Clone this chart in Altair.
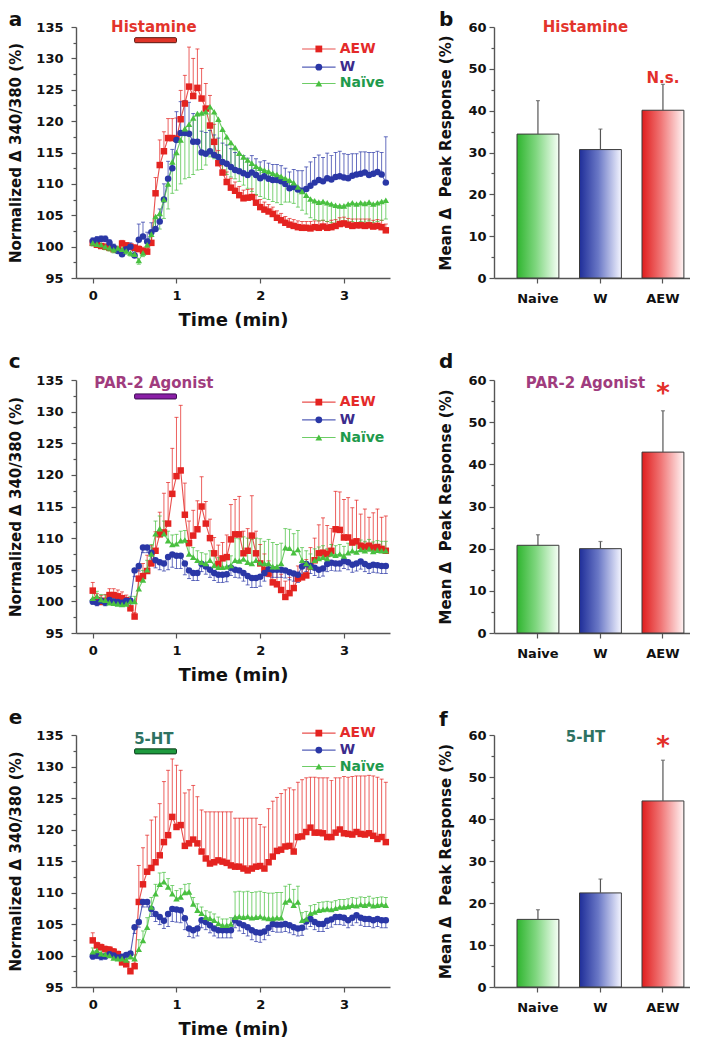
import altair as alt
import pandas as pd

FONT = "DejaVu Sans"
SERIES = ["AEW", "W", "Naïve"]
SERIES_COLORS = ["#e42320", "#2a37a6", "#49c040"]
LEGEND_TEXT_COLORS = ["#e42a2a", "#3b2b8c", "#1f9a4c"]
SHAPES = ["square", "circle", "triangle-up"]
GROUPS = ["Naive", "W", "AEW"]

# sample times (min), one sample every 3 s
TIME = [round(0.05 * i, 2) for i in range(71)]

# ---------------- panel a : Histamine ----------------
A_AEW = [100.6, 100.3, 100.1, 100.0, 99.8, 99.6, 99.5, 100.5, 100.2, 100.0,
         99.8, 99.6, 99.3, 99.2, 100.6, 108.5, 113.0, 115.2, 117.3, 117.3,
         117.2, 120.3, 122.8, 125.5, 124.0, 125.3, 123.6, 122.0, 119.3, 116.7,
         113.3, 111.8, 110.3, 109.4, 108.9, 108.2, 107.7, 107.8, 107.9, 107.0,
         106.3, 105.9, 105.6, 105.2, 104.6, 104.2, 103.8, 103.5, 103.3, 103.1,
         103.0, 103.0, 102.9, 103.1, 103.0, 103.2, 103.0, 103.1, 103.3, 103.6,
         103.7, 103.5, 103.3, 103.4, 103.4, 103.3, 103.4, 103.2, 103.3, 103.1,
         102.6]
A_AEW_ERR = [0.4, 0.3, 0.3, 0.3, 0.4, 0.4, 0.4, 0.5, 0.4, 0.4,
             0.5, 0.5, 0.6, 0.6, 1.0, 2.5, 4.0, 3.1, 3.1, 3.1,
             3.3, 4.6, 4.5, 6.3, 6.0, 6.2, 4.8, 4.0, 4.8, 2.8,
             2.0, 1.7, 1.6, 1.5, 1.4, 1.4, 1.3, 1.3, 1.3, 1.2,
             1.2, 1.2, 1.1, 1.1, 1.1, 1.1, 1.0, 1.0, 1.0, 1.0,
             1.0, 1.0, 1.1, 1.0, 1.1, 1.0, 1.0, 1.1, 1.0, 1.0,
             1.0, 1.0, 1.1, 1.0, 1.0, 1.1, 1.0, 1.0, 1.0, 1.1,
             1.0]
A_W = [100.9, 101.1, 101.2, 101.2, 100.6, 99.9, 99.3, 98.8, 99.6, 100.0,
       98.6, 101.1, 101.6, 100.8, 102.3, 102.8, 104.0, 107.5, 110.8, 112.5,
       117.0, 118.1, 118.1, 118.0, 116.7, 116.7, 115.0, 114.8, 115.2, 114.6,
       114.3, 113.5, 113.2, 112.7, 112.2, 112.0, 111.7, 111.4, 111.8, 111.4,
       110.9, 111.2, 110.8, 110.6, 110.6, 110.4, 110.0, 109.3, 109.5, 109.1,
       108.9, 109.2, 109.7, 110.2, 110.6, 110.4, 110.9, 110.7, 111.1, 111.2,
       111.0, 110.9, 111.3, 111.5, 111.6, 111.8, 111.4, 111.6, 111.9, 111.5,
       110.2]
A_W_ERR = [0.5, 0.5, 0.5, 0.5, 0.5, 0.5, 0.5, 0.5, 0.5, 0.6,
           0.8, 2.5, 2.3, 1.5, 1.5, 1.8, 2.0, 2.5, 2.8, 3.0,
           4.5, 5.0, 5.2, 5.0, 4.5, 4.3, 3.4, 3.4, 3.3, 3.2,
           3.0, 3.0, 3.0, 2.9, 2.8, 2.8, 2.8, 2.7, 2.7, 2.6,
           2.6, 2.5, 2.5, 2.5, 2.5, 2.5, 2.5, 2.6, 2.8, 3.0,
           3.2, 3.5, 3.8, 4.0, 4.0, 3.8, 4.0, 3.8, 3.9, 4.0,
           3.8, 3.8, 3.5, 3.3, 3.5, 3.3, 3.6, 3.4, 3.3, 3.5,
           7.3]
A_NAIVE = [100.6, 100.4, 100.3, 100.0, 99.8, 99.5, 99.8, 99.6, 99.3, 99.0,
           98.8, 97.8, 99.0, 100.3, 102.0, 104.8, 105.3, 107.5, 110.0, 113.5,
           115.0, 117.0, 118.8, 119.5, 120.5, 121.2, 121.3, 121.5, 122.3, 121.5,
           120.3, 118.7, 117.5, 116.6, 115.8, 114.9, 114.3, 113.8, 113.3, 112.8,
           112.5, 112.2, 112.0, 111.7, 111.5, 111.2, 110.9, 110.6, 110.2, 109.5,
           108.8, 108.2, 107.6, 107.3, 107.1, 107.2, 107.0, 106.8, 106.6, 106.5,
           106.5, 106.8, 107.0, 106.8, 107.0, 106.9, 107.1, 106.8, 107.0, 107.2,
           107.4]
A_NAIVE_ERR = [0.5, 0.5, 0.5, 0.5, 0.5, 0.5, 0.5, 0.5, 0.5, 0.5,
               0.5, 0.6, 0.6, 0.8, 1.5, 2.0, 2.5, 3.0, 4.0, 5.0,
               6.0, 7.0, 8.0, 8.5, 9.0, 9.0, 9.0, 8.5, 8.0, 7.5,
               7.0, 6.5, 6.0, 5.5, 5.0, 4.5, 4.5, 4.5, 4.5, 4.5,
               4.5, 4.5, 4.5, 4.5, 4.5, 4.5, 3.8, 3.5, 3.3, 3.2,
               3.0, 3.0, 3.0, 3.0, 3.0, 3.0, 3.0, 3.0, 3.0, 3.0,
               3.0, 3.0, 3.0, 3.0, 3.0, 3.0, 3.0, 3.0, 3.0, 3.0,
               3.0]

# ---------------- panel c : PAR-2 agonist ----------------
C_AEW = [101.7, 100.2, 99.9, 100.1, 101.0, 101.0, 100.8, 100.5, 100.2, 98.9,
         97.6, 103.6, 104.0, 104.8, 106.0, 108.0, 110.6, 110.9, 112.3, 117.0,
         119.8, 120.7, 113.7, 109.2, 110.4, 111.4, 115.0, 112.3, 110.0, 107.6,
         105.9, 106.8, 107.0, 109.8, 110.6, 110.6, 107.6, 108.0, 110.4, 107.6,
         106.0, 105.0, 104.4, 103.0, 102.7, 101.8, 100.7, 101.3, 102.1, 103.6,
         103.8, 104.1, 105.5, 106.5, 107.6, 107.7, 107.5, 108.0, 111.4, 111.3,
         110.1, 110.1, 109.3, 109.5, 108.8, 108.6, 108.8, 108.5, 108.6, 108.3,
         108.0]
C_AEW_ERR = [1.3, 1.0, 1.0, 1.0, 1.0, 1.0, 1.0, 1.0, 0.8, 0.8,
             0.6, 1.5, 2.0, 2.5, 2.8, 3.0, 3.5, 6.2, 6.5, 7.2,
             9.3, 10.3, 5.0, 3.5, 4.0, 4.5, 4.7, 3.5, 3.0, 2.5,
             3.0, 2.5, 3.5, 5.5, 5.5, 6.0, 3.5, 3.5, 6.3, 3.5,
             3.0, 2.5, 2.0, 2.0, 2.2, 2.5, 2.5, 2.5, 2.5, 2.0,
             2.5, 2.5, 3.0, 3.5, 4.5, 5.5, 4.5, 3.5, 6.0, 6.0,
             6.0, 6.3, 5.5, 6.5, 5.0, 6.0, 4.5, 5.5, 6.0, 5.0,
             5.5]
C_W = [100.0, 99.8, 100.1, 99.8, 100.2, 100.0, 99.9, 99.8, 100.1, 100.1,
       104.9, 105.6, 108.5, 108.5, 107.7, 106.5, 106.2, 106.0, 107.0, 107.4,
       107.2, 107.2, 106.0, 104.9, 104.5, 104.5, 105.9, 105.5, 105.0, 104.5,
       104.2, 104.2, 104.3, 105.3, 105.0, 104.9, 104.5, 104.0, 103.7, 103.7,
       103.9, 104.5, 105.1, 105.0, 105.0, 105.0, 104.9, 104.6, 104.4, 104.2,
       105.5, 105.9, 105.6, 105.3, 105.0, 105.2, 105.9, 106.1, 106.0, 106.0,
       106.4, 106.2, 105.8, 106.0, 106.3, 105.9, 105.6, 105.8, 105.7, 105.6,
       105.6]
C_W_ERR = [0.5, 0.5, 0.5, 0.5, 0.5, 0.5, 0.5, 0.5, 0.5, 0.5,
           1.0, 0.8, 0.8, 0.8, 1.2, 1.2, 1.2, 1.2, 2.0, 2.0,
           2.0, 2.0, 1.8, 1.3, 1.2, 1.2, 1.2, 1.2, 1.2, 1.2,
           1.2, 1.2, 1.2, 1.2, 1.2, 1.2, 1.3, 1.4, 1.5, 1.5,
           1.5, 1.3, 1.2, 1.2, 1.2, 1.2, 1.2, 1.2, 1.2, 1.2,
           1.2, 1.2, 1.2, 1.2, 1.2, 1.2, 1.2, 1.2, 1.2, 1.2,
           1.2, 1.2, 1.2, 1.2, 1.2, 1.2, 1.2, 1.2, 1.2, 1.2,
           1.2]
C_NAIVE = [100.5, 100.8, 100.3, 100.2, 99.8, 99.7, 99.6, 99.5, 99.6, 100.0,
           100.0, 102.0, 103.4, 105.0, 107.5, 110.7, 111.5, 110.7, 109.6, 109.0,
           109.1, 109.6, 109.7, 107.5, 107.0, 106.5, 106.2, 106.0, 106.5, 105.7,
           105.4, 105.4, 105.5, 105.7, 106.5, 106.4, 106.7, 106.2, 106.0, 106.5,
           106.1, 106.0, 106.0, 105.5, 105.5, 106.0, 108.5, 108.4, 107.7, 108.2,
           106.5, 106.0, 105.5, 106.5, 106.8, 107.0, 106.8, 107.5, 107.3, 107.5,
           107.2, 107.7, 108.0, 107.8, 108.2, 108.0, 108.3, 107.9, 108.1, 108.0,
           108.0]
C_NAIVE_ERR = [0.8, 0.8, 0.8, 0.8, 0.8, 0.8, 0.8, 0.8, 0.8, 0.8,
               0.8, 1.5, 1.5, 1.5, 1.5, 2.0, 2.0, 2.0, 1.5, 1.5,
               1.5, 1.5, 1.5, 1.5, 1.5, 1.5, 1.5, 1.5, 1.5, 1.5,
               1.5, 1.5, 1.5, 1.5, 3.5, 3.5, 3.5, 3.8, 3.8, 3.5,
               3.8, 3.5, 3.8, 3.8, 3.5, 3.2, 3.0, 3.0, 3.0, 3.0,
               2.0, 2.0, 2.0, 1.8, 1.8, 1.8, 1.5, 1.5, 1.5, 1.5,
               1.5, 1.5, 1.5, 1.5, 1.5, 1.5, 1.5, 1.5, 1.5, 1.5,
               1.5]

# ---------------- panel e : 5-HT ----------------
E_AEW = [102.4, 101.6, 101.3, 101.0, 100.9, 100.6, 100.2, 98.9, 98.6, 97.5,
         98.3, 108.5, 111.3, 113.3, 113.9, 114.8, 115.9, 118.0, 119.1, 122.0,
         120.4, 120.7, 117.4, 117.8, 118.4, 117.8, 116.5, 115.4, 114.6, 114.8,
         115.1, 114.9, 114.7, 114.3, 114.1, 114.1, 113.8, 113.5, 113.8, 114.1,
         114.2, 113.8, 114.8, 115.7, 116.6, 116.8, 117.3, 117.4, 116.5, 118.8,
         118.9, 119.6, 120.3, 119.5, 119.5, 119.4, 118.8, 118.8, 119.5, 120.0,
         119.4, 119.3, 119.2, 119.6, 119.3, 119.2, 119.4, 119.0, 118.5, 118.8,
         118.0]
E_AEW_ERR = [1.2, 0.5, 0.5, 0.5, 0.5, 0.5, 0.5, 0.5, 0.5, 0.5,
             0.5, 5.8, 5.8, 5.8, 7.6, 7.2, 8.2, 9.6, 10.3, 9.2,
             9.8, 8.7, 8.4, 8.5, 8.6, 7.4, 6.6, 7.4, 8.2, 8.0,
             7.7, 7.9, 8.1, 8.5, 7.7, 7.7, 8.0, 8.3, 8.0, 7.7,
             6.6, 6.6, 8.5, 8.8, 8.5, 8.9, 9.0, 9.2, 9.8, 8.7,
             9.0, 8.6, 8.0, 8.8, 8.7, 8.8, 9.4, 9.0, 8.7, 8.2,
             9.0, 9.0, 9.2, 8.9, 9.2, 9.3, 9.2, 9.5, 9.8, 9.2,
             9.5]
E_W = [99.9, 100.0, 99.8, 99.9, 100.2, 100.0, 99.7, 99.8, 100.1, 100.3,
       104.5, 105.3, 108.5, 108.5, 107.4, 106.6, 106.1, 105.5, 106.6, 107.4,
       107.3, 107.2, 105.9, 104.3, 104.0, 104.3, 105.6, 105.3, 104.8, 104.3,
       104.0, 104.0, 104.0, 104.0, 105.6, 105.1, 104.8, 104.5, 104.0, 103.7,
       103.6, 103.8, 104.4, 105.0, 104.9, 104.9, 105.0, 104.8, 104.5, 104.3,
       104.4, 105.4, 105.8, 105.3, 105.0, 105.0, 105.5, 105.7, 106.1, 106.1,
       106.0, 105.6, 106.0, 106.4, 106.0, 105.8, 105.8, 105.6, 105.8, 105.6,
       105.6]
E_W_ERR = [0.5, 0.5, 0.5, 0.5, 0.5, 0.5, 0.5, 0.5, 0.5, 0.5,
           1.0, 0.8, 0.8, 0.8, 1.2, 1.2, 1.2, 1.2, 2.0, 2.0,
           2.0, 2.0, 1.8, 1.3, 1.2, 1.2, 1.2, 1.2, 1.2, 1.2,
           1.2, 1.2, 1.2, 1.2, 1.2, 1.2, 1.3, 1.4, 1.5, 1.5,
           1.5, 1.3, 1.2, 1.2, 1.2, 1.2, 1.2, 1.2, 1.2, 1.2,
           1.2, 1.2, 1.2, 1.2, 1.2, 1.2, 1.2, 1.2, 1.2, 1.2,
           1.2, 1.2, 1.2, 1.2, 1.2, 1.2, 1.2, 1.2, 1.2, 1.2,
           1.2]
E_NAIVE = [100.6, 100.8, 100.3, 100.2, 100.0, 99.6, 99.5, 99.5, 99.3, 99.8,
           99.5, 101.0, 102.4, 104.5, 107.7, 109.8, 111.3, 111.7, 110.9, 109.8,
           109.0, 109.3, 110.0, 110.1, 108.2, 107.2, 106.7, 106.1, 105.9, 105.6,
           105.1, 104.8, 104.8, 105.0, 106.1, 106.2, 106.1, 106.2, 106.0, 106.1,
           106.2, 106.0, 105.9, 105.9, 106.0, 106.0, 108.5, 108.8, 108.0, 108.5,
           105.6, 105.8, 106.7, 106.9, 107.2, 107.3, 107.4, 107.3, 107.5, 107.7,
           107.7, 107.8, 108.0, 107.9, 108.1, 108.0, 108.2, 107.9, 108.0, 108.1,
           108.0]
E_NAIVE_ERR = [0.6, 0.6, 0.6, 0.6, 0.6, 0.6, 0.6, 0.6, 0.6, 0.6,
               0.6, 1.5, 1.5, 1.5, 1.5, 1.5, 1.8, 1.5, 1.3, 1.3,
               1.3, 1.3, 1.3, 1.3, 1.0, 1.0, 1.0, 1.0, 1.0, 1.0,
               1.0, 1.0, 1.0, 1.0, 4.0, 4.0, 4.0, 4.0, 4.0, 4.0,
               4.0, 4.0, 4.0, 4.0, 4.0, 4.0, 2.5, 2.5, 2.5, 2.5,
               1.2, 1.2, 1.2, 1.2, 1.2, 1.2, 1.2, 1.2, 1.2, 1.2,
               1.2, 1.2, 1.2, 1.2, 1.2, 1.2, 1.2, 1.2, 1.2, 1.2,
               1.2]

# ---------------- bar panels: mean peak response ----------------
B_MEAN = [34.4, 30.7, 40.1]
B_ERR = [8.0, 4.9, 6.2]
D_MEAN = [20.8, 20.0, 42.9]
D_ERR = [2.5, 1.7, 9.8]
F_MEAN = [16.1, 22.4, 44.3]
F_ERR = [2.3, 3.3, 9.7]

BAR_GRADIENTS = [
    ["#2fb52f", "#7fd67f", "#f6fff6"],
    ["#1f2e99", "#6a78c6", "#f4f5ff"],
    ["#e01d1d", "#f07575", "#fff4f4"],
]

XS = alt.Scale(domain=[-0.2, 3.55], nice=False, zero=False)
YS = alt.Scale(domain=[95, 135], nice=False, zero=False)
COLOR = alt.Color("series:N", scale=alt.Scale(domain=SERIES, range=SERIES_COLORS), legend=None)
SHAPE = alt.Shape("series:N", scale=alt.Scale(domain=SERIES, range=SHAPES), legend=None)

LINE_X_AXIS = alt.Axis(
    values=[0, 0.5, 1, 1.5, 2, 2.5, 3, 3.5], format="d",
    labelExpr="datum.value % 1 === 0 ? datum.label : ''",
    tickSize={"condition": {"test": "datum.value % 1 === 0", "value": 5}, "value": 4},
    labelOverlap=False, labelFlush=False, labelFontSize=13, labelPadding=6,
    title="Time (min)", titleFontSize=18, titlePadding=9,
)
LINE_Y_AXIS = alt.Axis(
    values=[95 + 2.5 * k for k in range(17)], format="d",
    labelExpr="datum.value % 5 === 0 ? datum.label : ''",
    tickSize={"condition": {"test": "datum.value % 5 === 0", "value": 5}, "value": 3},
    labelOverlap=False, labelFontSize=13, labelPadding=8,
    title="Normalized Δ 340/380 (%)", titleFontSize=15, titlePadding=12,
)
BAR_X_AXIS = alt.Axis(title=None, labelFontSize=13, labelPadding=9, labelAngle=0, tickSize=5)
BAR_Y_AXIS = alt.Axis(
    values=[5 * k for k in range(13)], format="d",
    labelExpr="datum.value % 10 === 0 ? datum.label : ''",
    tickSize={"condition": {"test": "datum.value % 10 === 0", "value": 5}, "value": 3},
    labelOverlap=False, labelFontSize=13, labelPadding=3,
    title="Mean Δ\u00a0\u00a0Peak Response (%)", titleFontSize=15, titlePadding=14,
)


def lx(field):
    return alt.X(field, scale=XS, axis=LINE_X_AXIS)


def ly(field):
    return alt.Y(field, scale=YS, axis=LINE_Y_AXIS)


def letter_title(letter, dy):
    return alt.TitleParams(text=letter, anchor="start", frame="bounds", fontSize=20,
                           fontWeight="bold", color="#111", offset=0, dy=dy)


def line_panel(letter, vals, errs, signs, stim_label, stim_fill, stim_stroke, stim_text_color,
               stim_text_v, stim_bar_v, legend_v, height, title_dy):
    rows = []
    for s, vs, es, sg in zip(SERIES, vals, errs, signs):
        for t, v, e in zip(TIME, vs, es):
            rows.append({"t": t, "v": v, "end": v + sg * e, "series": s})
    df = pd.DataFrame(rows)
    base = alt.Chart(df)

    err = base.mark_rule(strokeWidth=0.9, opacity=0.8).encode(
        x=lx("t:Q"), y=ly("v:Q"), y2="end:Q", color=COLOR)
    cap = base.mark_tick(orient="horizontal", size=4, thickness=0.9, opacity=0.8).encode(
        x=lx("t:Q"), y=ly("end:Q"), color=COLOR)
    line = base.mark_line(strokeWidth=1.1, opacity=0.8).encode(x=lx("t:Q"), y=ly("v:Q"), color=COLOR)
    pts = base.mark_point(filled=True, size=42, opacity=1).encode(
        x=lx("t:Q"), y=ly("v:Q"), color=COLOR, shape=SHAPE)

    stim_df = pd.DataFrame({"t0": [0.5], "t1": [1.0], "v0": [stim_bar_v[0]], "v1": [stim_bar_v[1]],
                            "tl": [0.73], "vl": [stim_text_v], "label": [stim_label]})
    stim_bar = alt.Chart(stim_df).mark_rect(color=stim_fill, stroke=stim_stroke, strokeWidth=1,
                                            cornerRadius=1).encode(
        x=lx("t0:Q"), x2="t1:Q", y=ly("v0:Q"), y2="v1:Q")
    stim_txt = alt.Chart(stim_df).mark_text(fontSize=15, fontWeight="bold", color=stim_text_color,
                                            baseline="middle").encode(
        x=lx("tl:Q"), y=ly("vl:Q"), text="label:N")

    leg_df = pd.DataFrame({"series": SERIES, "y": legend_v, "x1": 2.50, "x2": 2.90, "xm": 2.70, "xt": 2.95})
    lb = alt.Chart(leg_df)
    leg_line = lb.mark_rule(strokeWidth=1.1, opacity=0.8).encode(
        x=lx("x1:Q"), x2="x2:Q", y=ly("y:Q"), color=COLOR)
    leg_pts = lb.mark_point(filled=True, size=46, opacity=1).encode(
        x=lx("xm:Q"), y=ly("y:Q"), color=COLOR, shape=SHAPE)
    leg_txt = [
        lb.transform_filter(alt.datum.series == s).mark_text(
            align="left", baseline="middle", fontSize=14, fontWeight="bold", color=c).encode(
            x=lx("xt:Q"), y=ly("y:Q"), text="series:N")
        for s, c in zip(SERIES, LEGEND_TEXT_COLORS)
    ]

    return alt.layer(err, cap, line, pts, stim_bar, stim_txt, leg_line, leg_pts, *leg_txt).properties(
        width=314, height=height, title=letter_title(letter, title_dy))


def bar_panel(letter, means, errs, label, label_color, label_v, note, note_size, note_v, height, title_dy):
    df = pd.DataFrame({"group": GROUPS, "mean": means, "top": [m + e for m, e in zip(means, errs)]})
    xs = alt.Scale(domain=GROUPS, paddingInner=0.33, paddingOuter=0.233, align=0.79)
    ys = alt.Scale(domain=[0, 60], nice=False)

    def bx():
        return alt.X("group:N", scale=xs, axis=BAR_X_AXIS)

    def by(field):
        return alt.Y(field, scale=ys, axis=BAR_Y_AXIS)

    layers = []
    for g, stops in zip(GROUPS, BAR_GRADIENTS):
        grad = alt.LinearGradient(
            gradient="linear", x1=0, x2=1, y1=0, y2=0,
            stops=[alt.GradientStop(color=stops[0], offset=0),
                   alt.GradientStop(color=stops[1], offset=0.45),
                   alt.GradientStop(color=stops[2], offset=1)])
        layers.append(
            alt.Chart(df).transform_filter(alt.datum.group == g).mark_bar(
                color=grad, stroke="#3a3a3a", strokeWidth=1).encode(x=bx(), y=by("mean:Q")))
    eb = alt.Chart(df).mark_rule(color="#555", strokeWidth=1.2).encode(x=bx(), y=by("mean:Q"), y2="top:Q")
    ec = alt.Chart(df).mark_tick(orient="horizontal", size=4, thickness=1.2, color="#555").encode(
        x=bx(), y=by("top:Q"))
    lab_df = pd.DataFrame({"group": ["W"], "v": [label_v], "label": [label]})
    lab = alt.Chart(lab_df).mark_text(dx=-15, fontSize=15, fontWeight="bold", color=label_color,
                                      baseline="middle").encode(x=bx(), y=by("v:Q"), text="label:N")
    note_df = pd.DataFrame({"group": ["AEW"], "v": [note_v], "label": [note]})
    nt = alt.Chart(note_df).mark_text(fontSize=note_size, fontWeight="bold", color="#e3302a",
                                      baseline="middle").encode(x=bx(), y=by("v:Q"), text="label:N")
    return alt.layer(*layers, eb, ec, lab, nt).properties(
        width=196, height=height, title=letter_title(letter, title_dy))


UP, DOWN = 1, -1

pa = line_panel("a", [A_AEW, A_W, A_NAIVE], [A_AEW_ERR, A_W_ERR, A_NAIVE_ERR], [UP, UP, DOWN],
                "Histamine", "#e03428", "#5a1810", "#e3342c", 135.0, (132.5, 133.3),
                [131.5, 128.6, 126.0], 251, 10)
pb = bar_panel("b", B_MEAN, B_ERR, "Histamine", "#e3342c", 60, "N.s.", 15, 47.7, 251, 10)
pc = line_panel("c", [C_AEW, C_W, C_NAIVE], [C_AEW_ERR, C_W_ERR, C_NAIVE_ERR], [UP, DOWN, UP],
                "PAR-2 Agonist", "#8a1fa6", "#3a0a50", "#a03c7e", 134.5, (132.0, 132.8),
                [131.5, 128.7, 125.9], 253, -2)
pd_ = bar_panel("d", D_MEAN, D_ERR, "PAR-2 Agonist", "#a03c7e", 59.4, "*", 26, 56.7, 253, -2)
pe = line_panel("e", [E_AEW, E_W, E_NAIVE], [E_AEW_ERR, E_W_ERR, E_NAIVE_ERR], [UP, DOWN, UP],
                "5-HT", "#1e9a3e", "#0a3a1a", "#2e7262", 134.3, (132.0, 132.8),
                [135.3, 132.6, 130.0], 252, 2)
pf = bar_panel("f", F_MEAN, F_ERR, "5-HT", "#2e7262", 59.6, "*", 26, 57.2, 252, 1)

chart = alt.concat(pa, pb, pc, pd_, pe, pf, columns=2, spacing={"row": 102, "column": 104},
                   bounds="flush", padding={"left": 0, "top": 2, "right": 0, "bottom": 0})
chart = chart.configure(font=FONT).configure_view(stroke=None).configure_axis(
    domainColor="#555", tickColor="#555", domainWidth=1.4, tickWidth=1.2,
    labelColor="#111", titleColor="#111", labelFont=FONT, titleFont=FONT,
    labelFontWeight="bold", titleFontWeight="bold", grid=False)

chart.save("out.html", embed_options={"renderer": "svg", "actions": False})
